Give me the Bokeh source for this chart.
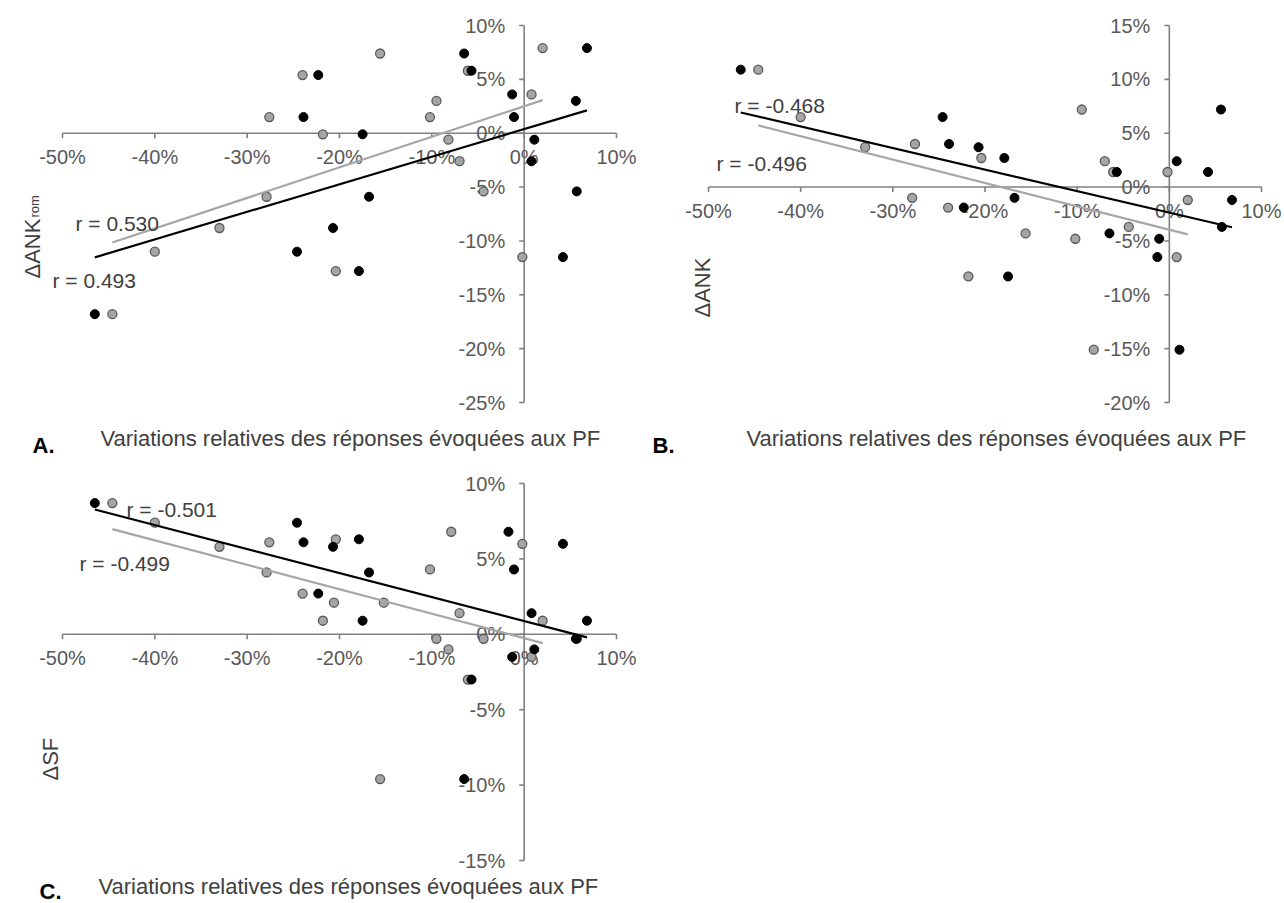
import numpy as np
from bokeh.plotting import figure
from bokeh.models import Range1d
from bokeh.core.properties import value
from bokeh.embed import file_html
from bokeh.resources import INLINE

# ---------------- data (percent) ----------------
# one entry per subject; x = relative variation of evoked responses (two conditions)
x_black = [-46.5, -24.6, -23.9, -22.3, -20.7, -17.9, -17.5, -16.8, -6.5, -5.7,
           -1.3, -1.1, 0.8, 1.1, 4.2, 5.6, 5.7, 6.8]
x_gray = [-44.6, -40.0, -27.6, -24.0, -33.0, -20.4, -21.8, -27.9, -15.6, -6.1,
          0.8, -10.2, -7.0, -8.2, -0.2, -9.5, -4.4, 2.0]
y_ank_rom = [-16.8, -11.0, 1.5, 5.4, -8.8, -12.8, -0.1, -5.9, 7.4, 5.8,
             3.6, 1.5, -2.6, -0.6, -11.5, 3.0, -5.4, 7.9]
y_ank = [10.9, 6.5, 4.0, -1.9, 3.7, 2.7, -8.3, -1.0, -4.3, 1.4,
         -6.5, -4.8, 2.4, -15.1, 1.4, 7.2, -3.7, -1.2]
y_sf = [8.7, 7.4, 6.1, 2.7, 5.8, 6.3, 0.9, 4.1, -9.6, -3.0,
        -1.5, 4.3, 1.4, -1.0, 6.0, -0.3, -0.3, 0.9]
# extra points only visible in panel C
sf_extra_x_black = [-1.7]
sf_extra_y_black = [6.8]
sf_extra_x_gray = [-7.9, -20.6, -15.2]
sf_extra_y_gray = [6.8, 2.1, 2.1]

x_ticks = [-50, -40, -30, -20, -10, 0, 10]
y_ticks_a = [10, 5, 0, -5, -10, -15, -20, -25]
y_ticks_b = [15, 10, 5, 0, -5, -10, -15, -20]
y_ticks_c = [10, 5, 0, -5, -10, -15]
r_labels = {"A": ["r = 0.530", "r = 0.493"], "B": ["r = -0.468", "r = -0.496"],
            "C": ["r = -0.501", "r = -0.499"]}
x_title = "Variations relatives des réponses évoquées aux PF"

# ---------------- layout (page pixels) ----------------
W, H = 1284, 903
OX, OY = 0, 0
FONT = "Liberation Sans"
TICK_COL = "#595959"
TXT_COL = "#404040"
AX_COL = "#808080"

panels = {
    "A": dict(xpx=(62, 616), xv=(-50, 10), ypx=(25, 402), yv=(10, -25)),
    "B": dict(xpx=(708, 1261), xv=(-50, 10), ypx=(25, 402), yv=(15, -20)),
    "C": dict(xpx=(62, 616), xv=(-50, 10), ypx=(483, 860), yv=(10, -15)),
}
for k, d in panels.items():
    sx = (d["xpx"][1] - d["xpx"][0]) / (d["xv"][1] - d["xv"][0])
    sy = (d["ypx"][1] - d["ypx"][0]) / (d["yv"][0] - d["yv"][1])
    x0 = d["xv"][0] - (d["xpx"][0] - OX) / sx
    ytop = d["yv"][0] + (d["ypx"][0] - OY) / sy
    d.update(sx=sx, sy=sy, xr=Range1d(x0, x0 + W / sx), yr=Range1d(ytop - H / sy, ytop))

def px2x(k, px):
    d = panels[k]
    return d["xr"].start + (px - OX) / d["sx"]

def py2y(k, py):
    d = panels[k]
    return d["yr"].end - (py - OY) / d["sy"]

p = figure(width=W, height=H, output_backend="svg", toolbar_location=None,
           x_axis_location=None, y_axis_location=None, min_border=0,
           outline_line_color=None, x_range=panels["A"]["xr"], y_range=panels["A"]["yr"])
p.extra_x_ranges = {"B": panels["B"]["xr"], "C": panels["C"]["xr"]}
p.extra_y_ranges = {"B": panels["B"]["yr"], "C": panels["C"]["yr"]}
p.grid.visible = False
p.background_fill_color = "white"
p.border_fill_color = "white"

def rn(k):
    n = "default" if k == "A" else k
    return dict(x_range_name=n, y_range_name=n)

def draw_axes(k, yt):
    d = panels[k]
    r = rn(k)
    tl_y = 5 / d["sy"]
    tl_x = 5 / d["sx"]
    p.segment(x0=[x_ticks[0]], y0=[0], x1=[x_ticks[-1]], y1=[0], line_color=AX_COL, line_width=1.6, **r)
    p.segment(x0=[0], y0=[yt[0]], x1=[0], y1=[yt[-1]], line_color=AX_COL, line_width=1.6, **r)
    p.segment(x0=x_ticks, y0=[0] * len(x_ticks), x1=x_ticks, y1=[-tl_y] * len(x_ticks),
              line_color=AX_COL, line_width=1.6, **r)
    p.segment(x0=[0] * len(yt), y0=yt, x1=[-tl_x] * len(yt), y1=yt,
              line_color=AX_COL, line_width=1.6, **r)
    p.text(x=x_ticks, y=[0] * len(x_ticks), text=[f"{t}%" for t in x_ticks],
           text_align="center", text_baseline="middle", y_offset=24,
           text_font=value(FONT), text_font_size="20px", text_color=TICK_COL, **r)
    p.text(x=[0] * len(yt), y=yt, text=[f"{t}%" for t in yt],
           text_align="right", text_baseline="middle", x_offset=-19,
           text_font=value(FONT), text_font_size="20px", text_color=TICK_COL, **r)

def draw_series(k, xg, yg, xb, yb):
    r = rn(k)
    p.scatter(xg, yg, size=9, fill_color="#A5A5A5", line_color="#595959", line_width=1.3, **r)
    p.scatter(xb, yb, size=9, fill_color="black", line_color="black", line_width=1, **r)
    for xs, ys, col in ((xg, yg, "#A6A6A6"), (xb, yb, "black")):
        m, c = np.polyfit(xs, ys, 1)
        xe = [min(xs), max(xs)]
        p.line(xe, [m * v + c for v in xe], line_color=col, line_width=2.2, **r)

def txt(k, px, py, s, size, color=TXT_COL, angle=0.0, bold=False, align="left", baseline="alphabetic"):
    p.text(x=[px2x(k, px)], y=[py2y(k, py)], text=[s], angle=angle,
           text_align=align, text_baseline=baseline, text_font=value(FONT),
           text_font_size=size, text_color=color,
           text_font_style="bold" if bold else "normal", **rn(k))

# panel A
draw_axes("A", y_ticks_a)
draw_series("A", x_gray, y_ank_rom, x_black, y_ank_rom)
# panel B
draw_axes("B", y_ticks_b)
draw_series("B", x_gray, y_ank, x_black, y_ank)
# panel C
draw_axes("C", y_ticks_c)
draw_series("C", x_gray + sf_extra_x_gray, y_sf + sf_extra_y_gray,
            x_black + sf_extra_x_black, y_sf + sf_extra_y_black)

# r annotations
txt("A", 75, 223, r_labels["A"][0], "21px")
txt("A", 52, 280, r_labels["A"][1], "21px")
txt("B", 734, 105, r_labels["B"][0], "21px")
txt("B", 716, 163, r_labels["B"][1], "21px")
txt("C", 126, 509, r_labels["C"][0], "21px")
txt("C", 79, 563, r_labels["C"][1], "21px")

# y-axis titles (rotated)
txt("A", 32, 278, "ΔANK", "22px", angle=np.pi / 2)
txt("A", 34, 217, "rom", "13px", angle=np.pi / 2)
txt("B", 702, 317, "ΔANK", "22px", angle=np.pi / 2)
txt("C", 50, 780, "ΔSF", "22px", angle=np.pi / 2)

# x-axis titles and panel letters
txt("A", 100, 438, x_title, "22px")
txt("A", 32, 445, "A.", "22px", color="black", bold=True)
txt("B", 746, 438, x_title, "22px")
txt("B", 652, 445, "B.", "22px", color="black", bold=True)
txt("C", 98, 886, x_title, "22px")
txt("C", 39, 891, "C.", "22px", color="black", bold=True)

open("out.html", "w").write(file_html(p, INLINE))
